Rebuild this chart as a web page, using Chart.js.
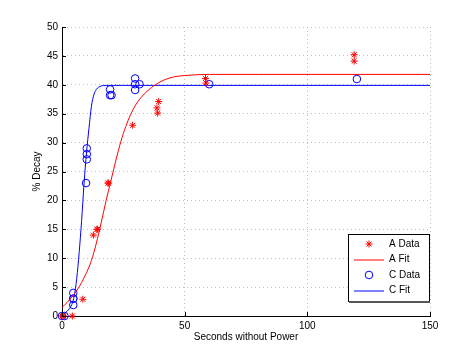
<!DOCTYPE html>
<html><head><meta charset="utf-8">
<script src="https://cdn.jsdelivr.net/npm/chart.js@4/dist/chart.umd.min.js"></script>
<style>html,body{margin:0;padding:0;background:#fff}canvas{display:block}</style>
</head><body>
<canvas id="c" width="474" height="356"></canvas>
<script>
const xTicks = [0, 50, 100, 150];
const yTicks = [0, 5, 10, 15, 20, 25, 30, 35, 40, 45, 50];
const aDataX = [0, 0.5, 4.2, 8.5, 12.8, 14.2, 14.5, 18.7, 19, 28.8, 39.4, 38.7, 39, 58.5, 58.7, 119.1, 119.1];
const aDataY = [0, 0, 0, 2.9, 14, 15, 15, 23, 23, 33, 37.1, 36, 35.1, 41.1, 40.3, 45.2, 44.1];
const cDataX = [0, 1, 4.6, 4.6, 4.6, 4.6, 9.8, 10.1, 10.1, 10.1, 19.6, 19.6, 20.2, 29.8, 29.8, 29.8, 31.6, 60, 120.2];
const cDataY = [0, 0, 4, 3, 3, 1.9, 23, 29, 28, 27.1, 39.2, 38.2, 38.2, 41.1, 40.1, 39.1, 40.1, 40.1, 41];
const aFitX = [0, 2, 4, 6, 8, 10, 12, 14, 16, 18, 20, 22, 24, 26, 28, 30, 32, 35, 38, 42, 46, 50, 60, 80, 150];
const aFitY = [1.5, 2.3, 3.3, 4.4, 5.8, 7.5, 9.6, 12.6, 16.2, 20, 23.5, 27, 30.2, 32.8, 34.9, 36.5, 37.7, 39, 40, 40.9, 41.4, 41.6, 41.8, 41.8, 41.8];
const cFitX = [0, 2, 4, 5, 6, 7, 8, 9, 10, 11, 12, 13, 14, 16, 18, 25, 150];
const cFitY = [0.1, 0.8, 2, 3.5, 6.5, 11, 16.5, 23, 28.3, 32.5, 36.3, 38.3, 39.2, 39.8, 39.9, 39.9, 39.9];

const pts = (xs, ys) => xs.map((x, i) => ({x: x, y: ys[i]}));
const FONT = "'Liberation Sans', Arial, Helvetica, sans-serif";
Chart.defaults.font.family = FONT;
Chart.defaults.font.size = 10;
Chart.defaults.color = '#000';

const inwardTicks = {
  id: 'inwardTicks',
  afterDraw(chart) {
    const ctx = chart.ctx, xs = chart.scales.x, ys = chart.scales.y;
    const a = chart.chartArea;
    ctx.save();
    ctx.strokeStyle = '#000';
    ctx.lineWidth = 1;
    ctx.beginPath();
    xTicks.forEach(v => {
      const p = Math.round(xs.getPixelForValue(v)) + 0.5;
      ctx.moveTo(p, a.bottom); ctx.lineTo(p, a.bottom - 4);
    });
    yTicks.forEach(v => {
      const p = Math.round(ys.getPixelForValue(v)) + 0.5;
      ctx.moveTo(a.left, p); ctx.lineTo(a.left + 4, p);
    });
    ctx.stroke();
    ctx.restore();
  }
};

const boxLegend = {
  id: 'boxLegend',
  afterDraw(chart) {
    const ctx = chart.ctx, a = chart.chartArea;
    const right = a.right - 1, bottom = a.bottom - 15;
    const w = 81, h = 67;
    const left = right - w, top = bottom - h;
    ctx.save();
    ctx.fillStyle = '#fff';
    ctx.fillRect(left, top, w, h);
    ctx.strokeStyle = '#000';
    ctx.lineWidth = 1;
    ctx.strokeRect(left + 0.5, top + 0.5, w, h);
    ctx.fillStyle = '#555';
    ctx.fillRect(left + 1, top + h, w, 2);
    const ds = chart.data.datasets;
    ctx.font = '10px ' + FONT;
    ctx.textBaseline = 'middle';
    ctx.textAlign = 'left';
    ds.forEach((d, i) => {
      const y = top + 10 + i * 15.5;
      const mx = left + 21;
      if (d.showLine) {
        ctx.strokeStyle = d.borderColor;
        ctx.lineWidth = 1;
        ctx.beginPath();
        ctx.moveTo(left + 6, y + 0.5); ctx.lineTo(left + 36, y + 0.5);
        ctx.stroke();
      } else {
        ctx.fillStyle = d.backgroundColor;
        ctx.strokeStyle = d.borderColor;
        ctx.lineWidth = 1;
        Chart.helpers.drawPoint(ctx, {pointStyle: d.pointStyle, radius: d.pointRadius, borderWidth: 1}, mx, y);
      }
      ctx.fillStyle = '#000';
      ctx.fillText(d.label, left + 41, y);
    });
    ctx.restore();
  }
};

new Chart(document.getElementById('c'), {
  type: 'scatter',
  data: {
    datasets: [
      {label: 'A Data', data: pts(aDataX, aDataY), pointStyle: 'star', pointRadius: 3.5, borderColor: '#ff0000', backgroundColor: '#ff0000', borderWidth: 1, clip: false},
      {label: 'A Fit', data: pts(aFitX, aFitY), showLine: true, pointRadius: 0, borderColor: '#ff0000', borderWidth: 1, cubicInterpolationMode: 'monotone'},
      {label: 'C Data', data: pts(cDataX, cDataY), pointStyle: 'circle', pointRadius: 3.8, borderColor: '#0000ff', backgroundColor: 'rgba(0,0,0,0)', borderWidth: 1, clip: false},
      {label: 'C Fit', data: pts(cFitX, cFitY), showLine: true, pointRadius: 0, borderColor: '#0000ff', borderWidth: 1, cubicInterpolationMode: 'monotone'}
    ]
  },
  options: {
    responsive: false,
    animation: false,
    devicePixelRatio: 1,
    layout: {padding: {top: 27, right: 44, left: 0, bottom: 0}},
    plugins: {legend: {display: false}, tooltip: {enabled: false}},
    scales: {
      x: {
        type: 'linear', min: 0, max: 150,
        afterBuildTicks: s => { s.ticks = xTicks.map(v => ({value: v})); },
        afterFit: s => { s.height = 40; },
        ticks: {padding: 4, maxRotation: 0, color: '#000', font: {size: 10}},
        grid: {color: '#bdbdbd', drawTicks: false, lineWidth: 1},
        border: {display: true, color: '#000', width: 1, dash: [1, 3]},
        title: {display: true, text: 'Seconds without Power', color: '#000', font: {size: 10}, padding: {top: 0, bottom: 13}}
      },
      y: {
        type: 'linear', min: 0, max: 50,
        afterBuildTicks: s => { s.ticks = yTicks.map(v => ({value: v})); },
        afterFit: s => { s.width = 62; },
        ticks: {padding: 4, color: '#000', font: {size: 10}},
        grid: {color: '#bdbdbd', drawTicks: false, lineWidth: 1},
        border: {display: true, color: '#000', width: 1, dash: [1, 3]},
        title: {display: true, text: '% Decay', color: '#000', font: {size: 10}, padding: {top: 31, bottom: 0}}
      }
    }
  },
  plugins: [inwardTicks, boxLegend]
});
</script>
</body></html>
